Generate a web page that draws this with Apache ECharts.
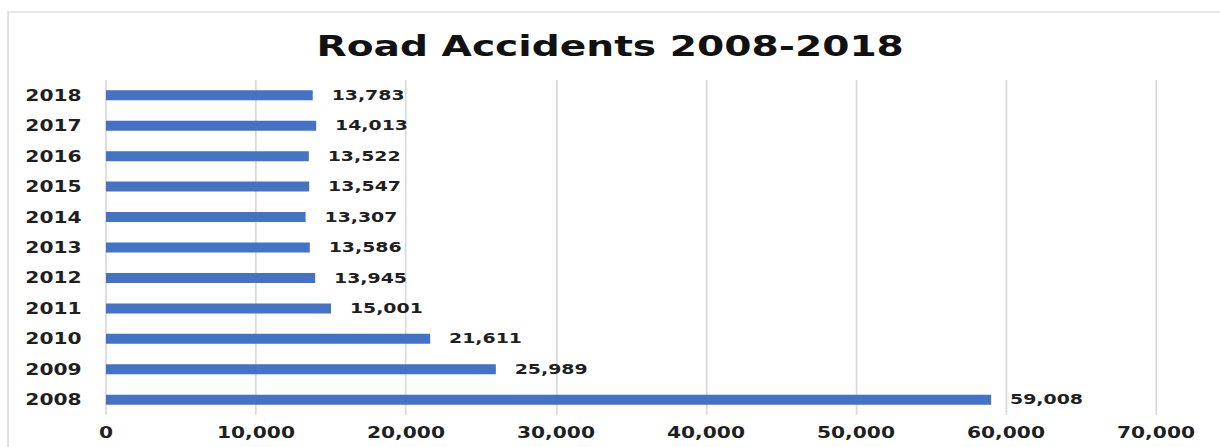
<!DOCTYPE html>
<html>
<head>
<meta charset="utf-8">
<script src="https://cdn.jsdelivr.net/npm/echarts@6/dist/echarts.min.js"></script>
<style>
  html, body { margin: 0; padding: 0; background: #ffffff; overflow: hidden; }
  #wrap { width: 1220px; height: 447px; overflow: hidden; }
  #chart { width: 904px; height: 447px; transform: scaleX(1.35); transform-origin: 0 0; }
</style>
</head>
<body>
<div id="wrap"><div id="chart"></div></div>
<script>
const titleText = 'Road Accidents 2008-2018';
const years = ['2008', '2009', '2010', '2011', '2012', '2013', '2014', '2015', '2016', '2017', '2018'];
const accidents = [59008, 25989, 21611, 15001, 13945, 13586, 13307, 13547, 13522, 14013, 13783];
const xMin = 0;
const xMax = 70000;
const xStep = 10000;

const fmt = v => Number(v).toLocaleString('en-US');
const font = 'DejaVu Sans';
const chart = echarts.init(document.getElementById('chart'), null, { renderer: 'svg' });
chart.setOption({
  backgroundColor: '#ffffff',
  animation: false,
  title: {
    text: titleText,
    left: 'center',
    top: 26,
    textStyle: { fontFamily: font, fontWeight: 'bold', fontSize: 29, color: '#111111' }
  },
  graphic: [{
    type: 'polyline',
    shape: { points: [[6, 460], [6, 12], [920, 12]] },
    style: { fill: 'none', stroke: '#e0e0e0', lineWidth: 1.5 },
    silent: true
  }],
  grid: { left: 78.5, right: 47.7, top: 80, bottom: 32, containLabel: false },
  xAxis: {
    type: 'value',
    min: xMin,
    max: xMax,
    interval: xStep,
    axisLine: { show: false },
    axisTick: { show: false },
    splitLine: { show: true, lineStyle: { color: '#dadada', width: 1.3 } },
    axisLabel: {
      formatter: fmt,
      margin: 10,
      fontFamily: font, fontWeight: 'bold', fontSize: 15, color: '#1f1f1f'
    }
  },
  yAxis: {
    type: 'category',
    data: years,
    axisLine: { show: false },
    axisTick: { show: false },
    splitLine: { show: false },
    axisLabel: {
      margin: 18,
      fontFamily: font, fontWeight: 'bold', fontSize: 15, color: '#1f1f1f'
    }
  },
  series: [{
    type: 'bar',
    data: accidents,
    barWidth: 10,
    itemStyle: { color: '#4472C4' },
    label: {
      show: true,
      position: 'right',
      distance: 14,
      formatter: p => fmt(p.value),
      fontFamily: font, fontWeight: 'bold', fontSize: 14, color: '#1f1f1f'
    }
  }]
});
</script>
</body>
</html>
